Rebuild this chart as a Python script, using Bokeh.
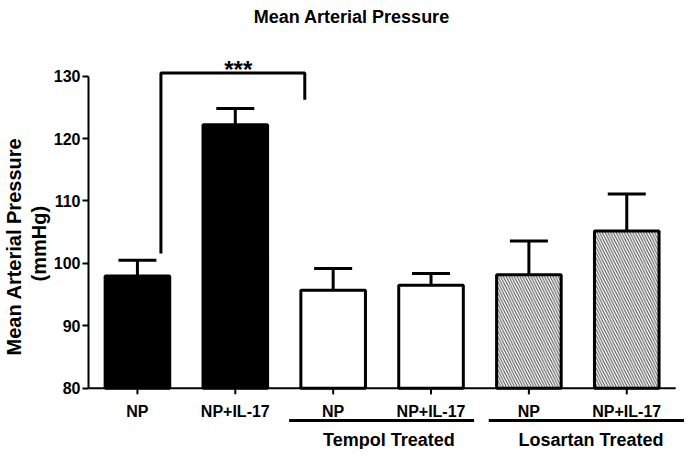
from bokeh.plotting import figure
from bokeh.models import ColumnDataSource, Range1d, FixedTicker, Whisker, TeeHead, Title
from bokeh.embed import file_html
from bokeh.resources import INLINE
from bokeh.core.properties import value

# ---- data ----
categories = ["NP", "NP+IL-17", "NP", "NP+IL-17", "NP", "NP+IL-17"]
means = [98.0, 122.2, 95.7, 96.5, 98.2, 105.2]
sems = [2.5, 2.6, 3.5, 1.9, 5.4, 5.9]
fills = ["black", "black", "white", "white", "white", "white"]
hatches = [" ", " ", " ", " ", "\\", "\\"]
groups = ["Tempol Treated", "Losartan Treated"]
title_text = "Mean Arterial Pressure"
y_label_lines = ["Mean Arterial Pressure", "(mmHg)"]
y_ticks = [80, 90, 100, 110, 120, 130]
sig_text = "***"
sig_pair = (0, 1)

# ---- layout constants (positions / styles) ----
FONT = "Liberation Sans"
Y0, Y1 = 80, 130                 # axis extent
PX = 6.232                       # pixels per y unit (frame 449 px tall)
Y_START = 70.21
Y_END = 142.10
group_start = [1.55, 3.59]
group_end = [3.44, 5.70]
group_label_x = [2.57, 4.635]
y_label_offsets = [94, 168]      # px from the frame bottom to each line's start

def dy(px):
    return px / PX

xs = list(range(len(categories)))
upper = [m + s for m, s in zip(means, sems)]

src = ColumnDataSource(dict(x=xs, top=means, fill=fills, hatch=hatches,
                            upper=upper, base=means))

p = figure(width=684, height=449, output_backend="svg", toolbar_location=None,
           x_range=Range1d(-0.5, 5.59), y_range=Range1d(Y_START, Y_END),
           min_border_left=75, min_border_right=0, min_border_top=0,
           min_border_bottom=0)
p.outline_line_color = None
p.grid.grid_line_color = None
p.xaxis.visible = False

# bars
p.vbar(x="x", top="top", bottom=Y0, width=0.66, source=src,
       fill_color="fill", line_color="black", line_width=3,
       hatch_pattern="hatch", hatch_color="#444444", hatch_scale=5.5,
       hatch_weight=1.0)

# error bars (upper only)
w = Whisker(base="x", lower="base", upper="upper", source=src, dimension="height",
            line_width=3, line_color="black",
            upper_head=TeeHead(size=38, line_width=3, line_color="black"),
            lower_head=None)
p.add_layout(w)

# y axis
yax = p.yaxis[0]
yax.ticker = FixedTicker(ticks=y_ticks)
yax.bounds = (Y0, Y1)
yax.axis_label = None
yax.major_label_text_font = FONT
yax.major_label_text_font_size = "16px"
yax.major_label_text_font_style = "bold"
yax.major_label_text_color = "black"
yax.major_label_standoff = 2
yax.axis_line_width = 2
yax.axis_line_color = "black"
yax.major_tick_line_width = 2
yax.major_tick_line_color = "black"
yax.major_tick_out = 6
yax.major_tick_in = 0
yax.minor_tick_line_color = None

# y axis label: two lines, centred on the 80-130 axis
for line, off in reversed(list(zip(y_label_lines, y_label_offsets))):
    p.add_layout(Title(text=line, align="left", offset=off, standoff=1,
                       text_font=FONT, text_font_size="20px",
                       text_font_style="bold", text_color="black",
                       text_line_height=1.0), "left")

# x axis (baseline, ticks, category labels)
p.segment(x0=[-0.5], x1=[5.5], y0=[Y0], y1=[Y0], line_width=2, line_color="black")
p.segment(x0=xs, x1=xs, y0=[Y0] * len(xs), y1=[Y0 - dy(6)] * len(xs),
          line_width=2, line_color="black")
p.text(x=xs, y=[Y0 - dy(23)] * len(xs), text=categories,
       text_font=value(FONT), text_font_size="16px", text_font_style="bold",
       text_color="black", text_align="center", text_baseline="alphabetic")

# significance bracket
i0, i1 = sig_pair
bracket_top = 130.5
p.line(x=[xs[i0] + 0.24, xs[i0] + 0.24, xs[i1] + 0.71, xs[i1] + 0.71],
       y=[upper[i0] + 1.1, bracket_top, bracket_top, 126.2],
       line_width=3, line_color="black")
p.text(x=[1.03], y=[Y0 + dy(318)], text=[sig_text],
       text_font=value(FONT), text_font_size="24px", text_font_style="bold",
       text_color="black", text_align="center", text_baseline="alphabetic")

# title
p.text(x=[2.19], y=[Y0 + dy(371)], text=[title_text],
       text_font=value(FONT), text_font_size="18px", text_font_style="bold",
       text_color="black", text_align="center", text_baseline="alphabetic")

# group lines and labels below axis
p.segment(x0=group_start, x1=group_end, y0=[Y0 - dy(32)] * 2, y1=[Y0 - dy(32)] * 2,
          line_width=3, line_color="black")
p.text(x=group_label_x, y=[Y0 - dy(52)] * 2, text=groups,
       text_font=value(FONT), text_font_size="18px", text_font_style="bold",
       text_color="black", text_align="center", text_baseline="alphabetic")

open("out.html", "w").write(file_html(p, INLINE))
